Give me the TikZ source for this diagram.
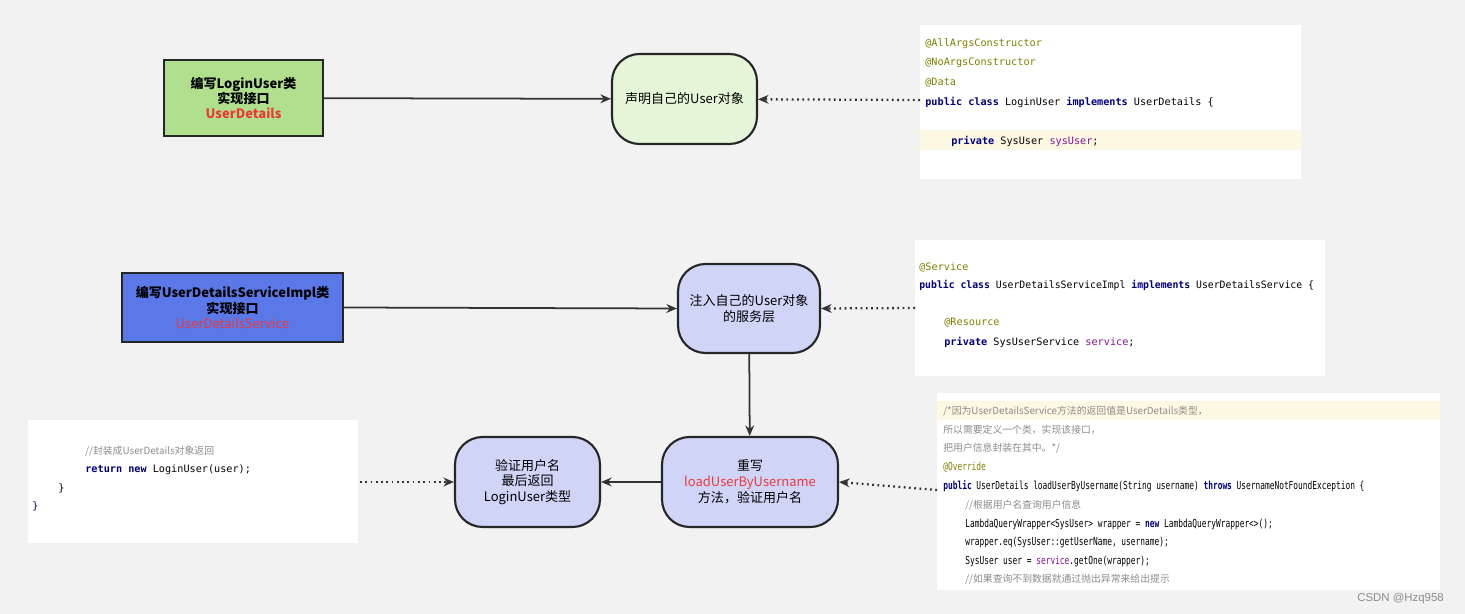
\documentclass[tikz,border=0pt]{standalone}
\usepackage{fontspec}
\usetikzlibrary{arrows.meta}
\setmainfont{Liberation Sans}
\newfontfamily\cjk{Noto Sans CJK SC}
\newfontfamily\mono{DejaVu Sans Mono}
\definecolor{bg}{HTML}{F2F2F2}
\definecolor{kw}{HTML}{000080}
\definecolor{ann}{HTML}{808000}
\definecolor{fld}{HTML}{871094}
\definecolor{cmt}{HTML}{8C8C8C}
\definecolor{hl}{HTML}{FCF8E2}
\definecolor{redt}{HTML}{EA3A3A}
\begin{document}
\begin{tikzpicture}[x=0.02cm,y=-0.02cm,
  rnd/.style={draw=black!85,line width=1.2pt,rounded corners=0.55cm,align=center,font=\cjk\fontsize{7.4}{9}\selectfont},
  sq/.style={draw=black!85,line width=1.2pt,align=center,font=\cjk\bfseries\fontsize{7.4}{8.6}\selectfont},
  arr/.style={-{Stealth[length=6pt,width=5pt]},line width=1pt,black!80},
  dot/.style={arr,dotted,line width=1.3pt},
  code/.style={fill=white,draw=none},
  cl/.style={anchor=west,font=\mono\fontsize{5.8}{7}\selectfont,inner sep=0pt},
  cs/.style={anchor=west,font=\mono\fontsize{6.3}{7}\selectfont,inner sep=0pt},
  cc/.style={anchor=west,font=\cjk\itshape\fontsize{5.6}{7}\selectfont,text=cmt,inner sep=0pt}]
\useasboundingbox[fill=bg] (0,0) rectangle (1465,614);
% nodes
\node[sq,fill={rgb,255:red,176;green,224;blue,141},minimum width=3.18cm,minimum height=1.52cm] (a) at (243.5,98) {编写LoginUser类\\实现接口\\\textcolor{redt}{UserDetails}};
\node[rnd,fill={rgb,255:red,228;green,245;blue,216},minimum width=2.9cm,minimum height=1.8cm] (b) at (684.5,99) {声明自己的User对象};
\node[sq,fill={rgb,255:red,91;green,120;blue,232},minimum width=4.42cm,minimum height=1.38cm] (c) at (232.5,307.5) {编写UserDetailsServiceImpl类\\实现接口\\\textcolor{redt}{\mdseries UserDetailsService}};
\node[rnd,fill={rgb,255:red,208;green,213;blue,248},minimum width=2.84cm,minimum height=1.78cm] (d) at (749,308.5) {注入自己的User对象\\的服务层};
\node[rnd,fill={rgb,255:red,208;green,213;blue,248},minimum width=3.52cm,minimum height=1.8cm] (e) at (750,482) {重写\\\textcolor{redt}{loadUserByUsername}\\方法，验证用户名};
\node[rnd,fill={rgb,255:red,208;green,213;blue,248},minimum width=2.9cm,minimum height=1.8cm] (f) at (527.5,482) {验证用户名\\最后返回\\LoginUser类型};
% code box 1
\fill[code] (920,25) rectangle (1301,179);
\fill[hl] (920,130) rectangle (1301,150);
\node[cl,text=ann] at (925,44) {@AllArgsConstructor};
\node[cl,text=ann] at (925,63) {@NoArgsConstructor};
\node[cl,text=ann] at (925,83) {@Data};
\node[cl] at (925,102) {\textcolor{kw}{\bfseries public class} LoginUser \textcolor{kw}{\bfseries implements} UserDetails \{};
\node[cl] at (951,141) {\textcolor{kw}{\bfseries private} SysUser \textcolor{fld}{sysUser};};
\coordinate (c1) at (920,100);
% code box 2
\fill[code] (915,240) rectangle (1325,376);
\node[cl,text=ann] at (919,267) {@Service};
\node[cl] at (919,285) {\scalebox{0.96}[1]{\textcolor{kw}{\bfseries public class} UserDetailsServiceImpl \textcolor{kw}{\bfseries implements} UserDetailsService \{}};
\node[cl,text=ann] at (944,323) {@Resource};
\node[cl] at (944,342) {\textcolor{kw}{\bfseries private} SysUserService \textcolor{fld}{service};};
\coordinate (c2) at (915,308);
% code box 3
\fill[code] (937,393) rectangle (1440,590);
\fill[hl] (937,401) rectangle (1440,420);
\node[cc] at (943,411) {/*因为UserDetailsService方法的返回值是UserDetails类型，};
\node[cc] at (943,430) {所以需要定义一个类，实现该接口，};
\node[cc] at (943,448) {把用户信息封装在其中。*/};
\node[cs,text=ann] at (943,467) {\scalebox{0.71}[1]{@Override}};
\node[cs] at (943,486) {\scalebox{0.71}[1]{\textcolor{kw}{\bfseries public} UserDetails loadUserByUsername(String username) \textcolor{kw}{\bfseries throws} UsernameNotFoundException \{}};
\node[cc] at (965,505) {//根据用户名查询用户信息};
\node[cs] at (965,524) {\scalebox{0.71}[1]{LambdaQueryWrapper<SysUser> wrapper = \textcolor{kw}{\bfseries new} LambdaQueryWrapper<>();}};
\node[cs] at (965,542) {\scalebox{0.71}[1]{wrapper.eq(SysUser::getUserName, username);}};
\node[cs] at (965,561) {\scalebox{0.71}[1]{SysUser user = \textcolor{fld}{service}.getOne(wrapper);}};
\node[cc] at (965,579) {//如果查询不到数据就通过抛出异常来给出提示};
\coordinate (c3) at (937,490);
% code box 4
\fill[code] (28,420) rectangle (358,543);
\node[cc] at (85,451) {//封装成UserDetails对象返回};
\node[cl] at (85,470) {\textcolor{kw}{\bfseries return new} LoginUser(user);};
\node[cl] at (58,488) {\}};
\node[cl] at (32,506) {\textcolor{kw}{\}}};
\coordinate (c4) at (360,482);
% connectors
\draw[arr] (a) -- (b);
\draw[dot] (c1) -- (b);
\draw[arr] (c.east) -- (d.west);
\draw[dot] (c2) -- (d.east);
\draw[arr] (d) -- (e);
\draw[dot] (c3) -- (e.east);
\draw[arr] (e) -- (f);
\draw[dot] (c4) -- (f.west);
\node[anchor=east,font=\fontsize{6.5}{8}\selectfont,text=black!45] at (1450,599) {CSDN @Hzq958};
\end{tikzpicture}
\end{document}
